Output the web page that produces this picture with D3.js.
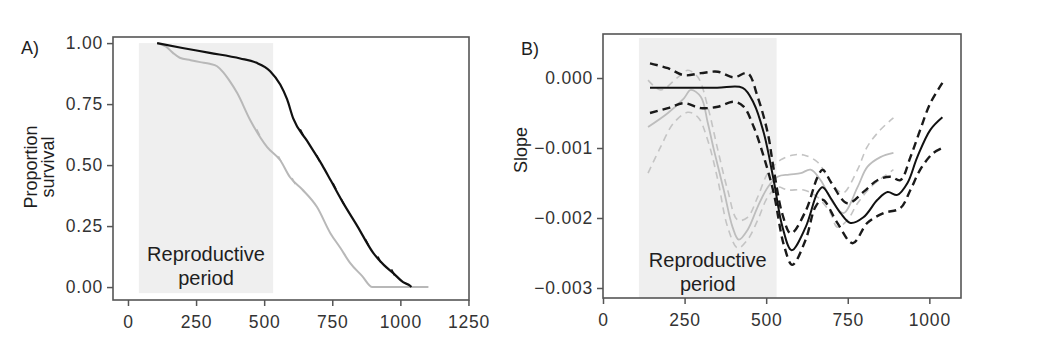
<!DOCTYPE html>
<html>
<head>
<meta charset="utf-8">
<script src="https://cdn.jsdelivr.net/npm/d3@7"></script>
<style>
  html, body { margin: 0; padding: 0; background: #fff; }
  svg { display: block; font-family: "Liberation Sans", Arial, sans-serif; }
</style>
</head>
<body>
<svg id="chart" width="1042" height="338"></svg>
<script>
// ---------------- DATA ----------------
// Panel A: survival curves (age, proportion surviving)
const survBlackAge = [107, 200, 300, 412, 470, 522, 559, 584, 607, 657, 713, 743, 790, 842, 901, 940, 974, 1010, 1037, 1040];
const survBlackVal = [1.00, 0.98, 0.96, 0.937, 0.92, 0.885, 0.83, 0.77, 0.69, 0.60, 0.50, 0.44, 0.345, 0.25, 0.139, 0.09, 0.057, 0.02, 0.004, 0.0];
const survGreyAge  = [107, 140, 165, 190, 230, 265, 300, 327, 350, 370, 401, 449, 511, 559, 595, 640, 694, 743, 780, 816, 860, 897, 1103];
const survGreyVal  = [1.00, 0.985, 0.96, 0.94, 0.93, 0.922, 0.915, 0.905, 0.88, 0.85, 0.795, 0.684, 0.574, 0.52, 0.45, 0.40, 0.328, 0.221, 0.16, 0.098, 0.045, 0.0, 0.0];
const censorBlackAge = [640, 700, 760, 790, 880, 925, 975];
const censorBlackVal = [0.63, 0.523, 0.41, 0.345, 0.178, 0.108, 0.056];
const censorGreyAge  = [480, 560, 610];
const censorGreyVal  = [0.63, 0.52, 0.43];
const survXTicks = [0, 250, 500, 750, 1000, 1250];
const survYTicks = [0, 0.25, 0.5, 0.75, 1.0];
const reproStartA = 40, reproEndA = 533;

// Panel B: slope curves (age, slope in units of 1e-3)
const slopeBlackAge = [144, 250, 350, 428, 462, 493, 523, 550, 578, 621, 657, 673, 697, 728, 758, 798, 841, 872, 902, 933, 963, 1003, 1040];
const slopeBlackVal = [-0.14, -0.14, -0.14, -0.14, -0.36, -0.79, -1.46, -2.13, -2.46, -2.13, -1.64, -1.56, -1.71, -1.93, -2.07, -1.99, -1.74, -1.63, -1.67, -1.5, -1.13, -0.74, -0.56];
const slopeBlackUpAge = [144, 199, 248, 300, 352, 401, 443, 474, 505, 523, 550, 576, 621, 657, 673, 700, 749, 800, 841, 881, 911, 942, 972, 1003, 1040];
const slopeBlackUpVal = [0.21, 0.14, 0.04, 0.07, 0.09, 0.01, 0.07, -0.27, -0.79, -1.30, -1.95, -2.22, -1.90, -1.42, -1.31, -1.50, -1.79, -1.62, -1.46, -1.41, -1.46, -1.13, -0.74, -0.36, -0.07];
const slopeBlackLoAge = [144, 199, 248, 300, 352, 401, 431, 462, 493, 523, 555, 580, 621, 651, 673, 718, 765, 810, 860, 911, 942, 972, 1010, 1040];
const slopeBlackLoVal = [-0.5, -0.43, -0.36, -0.43, -0.41, -0.34, -0.41, -0.7, -1.13, -1.64, -2.40, -2.67, -2.31, -1.84, -1.74, -2.07, -2.36, -2.07, -1.93, -1.86, -1.6, -1.31, -1.08, -1.0];
const slopeGreyAge = [138, 199, 248, 269, 300, 321, 340, 370, 397, 416, 443, 474, 505, 535, 570, 606, 636, 667, 706, 737, 780, 810, 850, 890];
const slopeGreyVal = [-0.7, -0.5, -0.29, -0.17, -0.27, -0.64, -1.03, -1.6, -2.13, -2.31, -2.17, -1.84, -1.56, -1.41, -1.38, -1.36, -1.31, -1.46, -1.79, -1.93, -1.56, -1.27, -1.13, -1.07];
const slopeGreyUpAge = [138, 177, 229, 260, 291, 321, 352, 382, 413, 443, 474, 505, 544, 584, 615, 657, 688, 718, 737, 780, 810, 850, 890];
const slopeGreyUpVal = [-0.03, -0.17, 0.01, 0.11, 0.01, -0.41, -1.03, -1.6, -2.03, -1.99, -1.7, -1.36, -1.17, -1.1, -1.1, -1.2, -1.41, -1.6, -1.64, -1.31, -0.98, -0.74, -0.57];
const slopeGreyLoAge = [138, 177, 217, 260, 291, 321, 352, 382, 413, 443, 474, 505, 535, 566, 615, 657, 697, 718, 749, 780, 820, 860, 890];
const slopeGreyLoVal = [-1.36, -0.98, -0.64, -0.49, -0.56, -0.89, -1.46, -2.13, -2.43, -2.31, -2.03, -1.7, -1.56, -1.6, -1.6, -1.7, -1.93, -2.13, -2.03, -1.79, -1.56, -1.41, -1.31];
const slopeXTicks = [0, 250, 500, 750, 1000];
const slopeYTicks = [0, -1, -2, -3];               // in units of 1e-3
const slopeYTickLabels = ["0.000", "\u22120.001", "\u22120.002", "\u22120.003"];
const reproStartB = 110, reproEndB = 532;

// ---------------- DRAWING ----------------
const svg = d3.select("#chart");
const zip = (a, b) => a.map((v, i) => [v, b[i]]);
const FONT = 17.5;
const tickCol = "#333";
const frameCol = "#555";
const textCol = "#1e1e1e";

function drawFrame(g, x, y, xTicks, yTicks, yFmt) {
  const [x0, x1] = x.range();
  const [y0, y1] = y.range();
  const xa = g.append("g").attr("transform", `translate(0,${y0})`)
    .call(d3.axisBottom(x).tickValues(xTicks).tickSize(6).tickPadding(5).tickFormat(d3.format("d")));
  const ya = g.append("g").attr("transform", `translate(${x0},0)`)
    .call(d3.axisLeft(y).tickValues(yTicks).tickSize(6).tickPadding(4).tickFormat(yFmt));
  [xa, ya].forEach(a => {
    a.select(".domain").remove();
    a.selectAll("line").attr("stroke", frameCol).attr("stroke-width", 1.5);
    a.selectAll("text").attr("fill", tickCol).style("font-size", FONT + "px")
      .style("letter-spacing", "0.8px");
  });
  xa.selectAll("text").attr("dy", "0.95em");
  g.append("rect").attr("x", x0).attr("y", y1).attr("width", x1 - x0).attr("height", y0 - y1)
    .attr("fill", "none").attr("stroke", frameCol).attr("stroke-width", 1.6);
}

// ----- Panel A -----
{
  const x = d3.scaleLinear().domain([-55, 1252]).range([113, 469]);
  const y = d3.scaleLinear().domain([-0.053, 1.025]).range([300, 37]);
  const g = svg.append("g");
  g.append("rect").attr("x", x(reproStartA)).attr("y", y(1.0)).attr("width", x(reproEndA) - x(reproStartA))
    .attr("height", y(-0.025) - y(1.0)).attr("fill", "#efefef");
  const line = d3.line().x(d => x(d[0])).y(d => y(d[1])).curve(d3.curveMonotoneX);
  g.append("path").datum(zip(survGreyAge, survGreyVal)).attr("d", line)
    .attr("fill", "none").attr("stroke", "#b8b8b8").attr("stroke-width", 2);
  g.append("path").datum(zip(survBlackAge, survBlackVal)).attr("d", line)
    .attr("fill", "none").attr("stroke", "#111").attr("stroke-width", 2.2);
  g.selectAll(".cb").data(zip(censorBlackAge, censorBlackVal)).enter().append("line")
    .attr("x1", d => x(d[0]) - 2).attr("x2", d => x(d[0]) + 1)
    .attr("y1", d => y(d[1]) - 4).attr("y2", d => y(d[1]) + 2)
    .attr("stroke", "#111").attr("stroke-width", 1.6);
  g.selectAll(".cg").data(zip(censorGreyAge, censorGreyVal)).enter().append("line")
    .attr("x1", d => x(d[0]) - 2).attr("x2", d => x(d[0]) + 1)
    .attr("y1", d => y(d[1]) - 4).attr("y2", d => y(d[1]) + 2)
    .attr("stroke", "#b8b8b8").attr("stroke-width", 1.4);
  drawFrame(g, x, y, survXTicks, survYTicks, d3.format(".2f"));
  const cx = (x(reproStartA) + x(reproEndA)) / 2;
  g.append("text").attr("x", cx).attr("y", 261).attr("text-anchor", "middle")
    .style("font-size", "20px").attr("fill", textCol).text("Reproductive");
  g.append("text").attr("x", cx).attr("y", 285).attr("text-anchor", "middle")
    .style("font-size", "20px").attr("fill", textCol).text("period");
  const lab = g.append("text").attr("transform", "translate(37,167) rotate(-90)")
    .attr("text-anchor", "middle").style("font-size", "18px").attr("fill", textCol);
  lab.append("tspan").attr("x", 0).attr("dy", "0").text("Proportion");
  lab.append("tspan").attr("x", 0).attr("dy", "0.95em").text("survival");
  g.append("text").attr("x", 21).attr("y", 54).style("font-size", "18px").attr("fill", textCol).text("A)");
}

// ----- Panel B -----
{
  const x = d3.scaleLinear().domain([0, 1097]).range([603, 961]);
  const y = d3.scaleLinear().domain([-3.143, 0.629]).range([298, 34]);
  const g = svg.append("g");
  g.append("rect").attr("x", x(reproStartB)).attr("y", y(0.571)).attr("width", x(reproEndB) - x(reproStartB))
    .attr("height", y(-3.143) - y(0.571)).attr("fill", "#efefef");
  const line = d3.line().x(d => x(d[0])).y(d => y(d[1])).curve(d3.curveCatmullRom.alpha(0.5));
  const addLine = (ax, vals, col, w, dash) => {
    const p = g.append("path").datum(zip(ax, vals)).attr("d", line)
      .attr("fill", "none").attr("stroke", col).attr("stroke-width", w);
    if (dash) p.attr("stroke-dasharray", dash);
  };
  addLine(slopeGreyUpAge, slopeGreyUpVal, "#c4c4c4", 1.6, "7,5");
  addLine(slopeGreyLoAge, slopeGreyLoVal, "#c4c4c4", 1.6, "7,5");
  addLine(slopeGreyAge, slopeGreyVal, "#bdbdbd", 1.8, null);
  addLine(slopeBlackUpAge, slopeBlackUpVal, "#1a1a1a", 2.4, "8,5");
  addLine(slopeBlackLoAge, slopeBlackLoVal, "#1a1a1a", 2.4, "8,5");
  addLine(slopeBlackAge, slopeBlackVal, "#111", 2, null);
  drawFrame(g, x, y, slopeXTicks, slopeYTicks, (d, i) => slopeYTickLabels[i]);
  const cx = (x(reproStartB) + x(reproEndB)) / 2;
  g.append("text").attr("x", cx).attr("y", 267).attr("text-anchor", "middle")
    .style("font-size", "20px").attr("fill", textCol).text("Reproductive");
  g.append("text").attr("x", cx).attr("y", 291).attr("text-anchor", "middle")
    .style("font-size", "20px").attr("fill", textCol).text("period");
  g.append("text").attr("transform", "translate(527,150) rotate(-90)")
    .attr("text-anchor", "middle").style("font-size", "18px").attr("fill", textCol).text("Slope");
  g.append("text").attr("x", 521).attr("y", 55).style("font-size", "18px").attr("fill", textCol).text("B)");
}
</script>
</body>
</html>
